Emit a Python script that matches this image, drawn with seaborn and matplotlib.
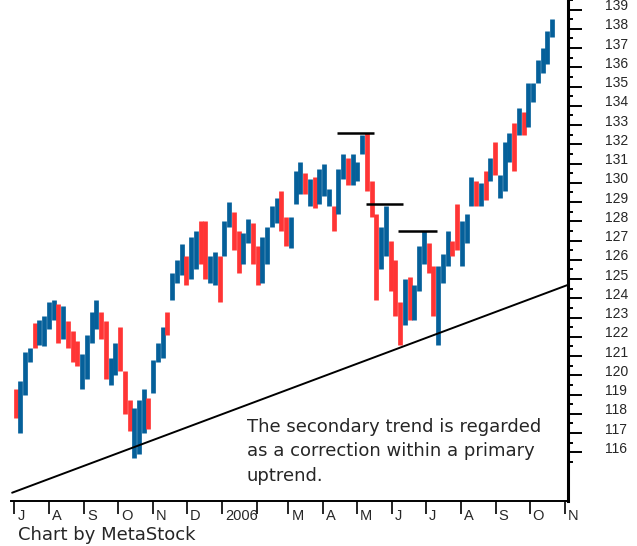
import matplotlib
matplotlib.use("Agg")
import matplotlib.pyplot as plt
import matplotlib.transforms as mtransforms
import seaborn as sns
import pandas as pd
import numpy as np

# Barras (mínima / máxima), ~3 pregões por barra
lows = [117.8, 117.0, 119.0, 120.7, 121.4, 121.6, 121.5, 122.4, 122.9, 121.7,
        121.9, 121.4, 120.7, 120.5, 119.3, 119.8, 121.7, 122.4, 121.9, 119.8,
        119.5, 120.0, 120.2, 118.0, 117.1, 115.7, 115.9, 117.0, 117.2, 119.1,
        120.7, 120.9, 122.1, 123.9, 124.8, 125.2, 124.7, 125.0, 125.5, 125.8,
        125.0, 124.8, 124.7, 123.8, 126.2, 127.7, 126.5, 125.3, 125.8, 126.9,
        125.8, 124.7, 124.8, 125.8, 127.7, 127.9, 127.5, 126.7, 126.6, 128.9,
        129.4, 129.4, 128.8, 128.7, 128.9, 129.3, 128.8, 127.5, 128.4, 130.2,
        129.9, 129.9, 130.1, 131.5, 129.6, 128.2, 123.9, 125.5, 126.2, 124.4,
        123.1, 121.6, 122.6, 122.9, 122.9, 124.4, 125.8, 125.3, 123.1, 121.6,
        124.8, 125.7, 126.2, 126.5, 125.7, 126.9, 128.8, 128.8, 128.8, 129.1,
        130.1, 130.4, 129.2, 129.6, 131.1, 130.6, 132.5, 132.5, 132.9, 134.2,
        135.2, 135.7, 136.2, 137.6]
highs = [119.3, 119.7, 121.2, 121.4, 122.7, 122.9, 123.1, 123.8, 123.9, 123.7,
         123.6, 122.8, 122.3, 121.8, 121.1, 122.1, 123.3, 123.9, 123.3, 122.8,
         120.9, 121.7, 122.5, 120.2, 118.7, 118.3, 118.7, 119.3, 118.8, 120.8,
         121.7, 122.5, 123.3, 125.3, 126.0, 126.8, 126.2, 127.2, 127.5, 128.0,
         128.0, 126.2, 126.4, 126.2, 128.0, 129.0, 128.5, 127.5, 127.4, 128.1,
         127.9, 126.7, 127.2, 127.7, 128.8, 129.2, 129.6, 128.2, 128.2, 130.6,
         131.1, 130.5, 130.2, 130.3, 130.7, 131.0, 129.7, 128.8, 130.7, 131.5,
         131.3, 131.5, 131.1, 132.5, 132.6, 130.1, 128.4, 127.7, 128.8, 127.0,
         126.0, 123.8, 125.0, 125.1, 124.7, 126.7, 127.5, 126.9, 125.7, 125.7,
         126.3, 127.5, 127.0, 128.9, 128.0, 128.4, 130.3, 130.1, 130.0, 130.6,
         131.3, 132.1, 130.4, 132.1, 132.6, 133.1, 133.9, 133.7, 135.2, 135.2,
         136.4, 137.0, 137.9, 138.5]
# u = alta (azul), d = baixa (vermelho)
direction = ["d", "u", "u", "u", "d", "u", "u", "u", "u", "d",
             "u", "d", "d", "d", "u", "u", "u", "u", "d", "d",
             "u", "u", "d", "d", "d", "u", "u", "u", "d", "u",
             "u", "u", "d", "u", "u", "u", "d", "u", "u", "d",
             "d", "u", "u", "d", "u", "u", "d", "d", "u", "u",
             "d", "d", "u", "u", "u", "u", "d", "d", "u", "u",
             "u", "d", "u", "d", "u", "u", "u", "d", "u", "u",
             "d", "u", "u", "u", "d", "d", "d", "u", "u", "d",
             "d", "d", "u", "d", "u", "u", "u", "d", "d", "u",
             "u", "u", "d", "d", "u", "u", "u", "d", "u", "d",
             "u", "d", "u", "u", "u", "d", "u", "d", "u", "u",
             "u", "u", "u", "u"]

# Linha de tendência primária e topos marcados
trend_dates = pd.to_datetime(["2005-06-29", "2006-11-04"])
trend_values = [113.9, 124.7]
peak_start = pd.to_datetime(["2006-04-13", "2006-05-09", "2006-06-06"])
peak_end = pd.to_datetime(["2006-05-16", "2006-06-11", "2006-07-11"])
peak_values = [132.6, 128.9, 127.5]

month_ticks = pd.date_range("2005-07-01", "2006-11-01", freq="MS")
month_labels = ["J", "A", "S", "O", "N", "D", "2006", "", "M", "A", "M",
                "J", "J", "A", "S", "O", "N"]
price_ticks = list(range(116, 140))

dates = pd.date_range("2005-07-02", "2006-10-21", periods=len(highs))

sns.set_style("white")
plt.rcParams["font.family"] = ["Liberation Sans", "DejaVu Sans"]

fig = plt.figure(figsize=(6.37, 5.46), dpi=100)
ax = fig.add_axes([11 / 637, 45 / 546, 557 / 637, 501 / 546])

blue, red = "#05609a", "#ff3535"
colors = [blue if d == "u" else red for d in direction]
ax.vlines(dates, lows, highs, colors=colors, linewidth=3.4)

sns.lineplot(x=trend_dates, y=trend_values, color="black", linewidth=1.4, ax=ax)
ax.hlines(peak_values, peak_start, peak_end, colors="black", linewidth=1.8)

ax.set_xlim(pd.Timestamp("2005-06-28"), pd.Timestamp("2006-11-04"))
ax.set_ylim(113.47, 139.16)

# eixo de preços à direita
ax.yaxis.tick_right()
ax.set_yticks(price_ticks)
ax.set_yticklabels([str(t) for t in price_ticks], fontsize=10)
ax.set_yticks(np.arange(115.5, 139.6, 1.0), minor=True)
ax.tick_params(axis="y", which="major", length=10, width=1.4, pad=17,
               right=True, left=False, color="black")
ax.tick_params(axis="y", which="minor", length=3.6, width=1.4, right=True,
               left=False, color="black")
up = mtransforms.ScaledTranslation(0, 5 / 100, fig.dpi_scale_trans)
for lbl in ax.get_yticklabels():
    lbl.set_transform(lbl.get_transform() + up)

ax.set_xticks(month_ticks)
ax.set_xticklabels(month_labels, fontsize=10.5, ha="left")
ax.tick_params(axis="x", which="major", length=9.5, width=1.2, pad=-3.5,
               bottom=True, color="black")
offset = mtransforms.ScaledTranslation(3 / 100, 0, fig.dpi_scale_trans)
for lbl in ax.get_xticklabels():
    lbl.set_transform(lbl.get_transform() + offset)

for side in ["top", "left"]:
    ax.spines[side].set_visible(False)
ax.spines["right"].set_linewidth(2.2)
ax.spines["bottom"].set_linewidth(1.4)
ax.spines["right"].set_color("black")
ax.spines["bottom"].set_color("black")
ax.set_xlabel("")
ax.set_ylabel("")

fig.text(247 / 637, (546 - 418) / 546,
         "The secondary trend is regarded\nas a correction within a primary\nuptrend.",
         fontsize=13, family="DejaVu Sans", va="top", ha="left", linespacing=1.45)
fig.text(18 / 637, 2 / 546, "Chart by MetaStock", fontsize=13,
         family="DejaVu Sans", va="bottom", ha="left")

fig.savefig("out.png", dpi=100)
